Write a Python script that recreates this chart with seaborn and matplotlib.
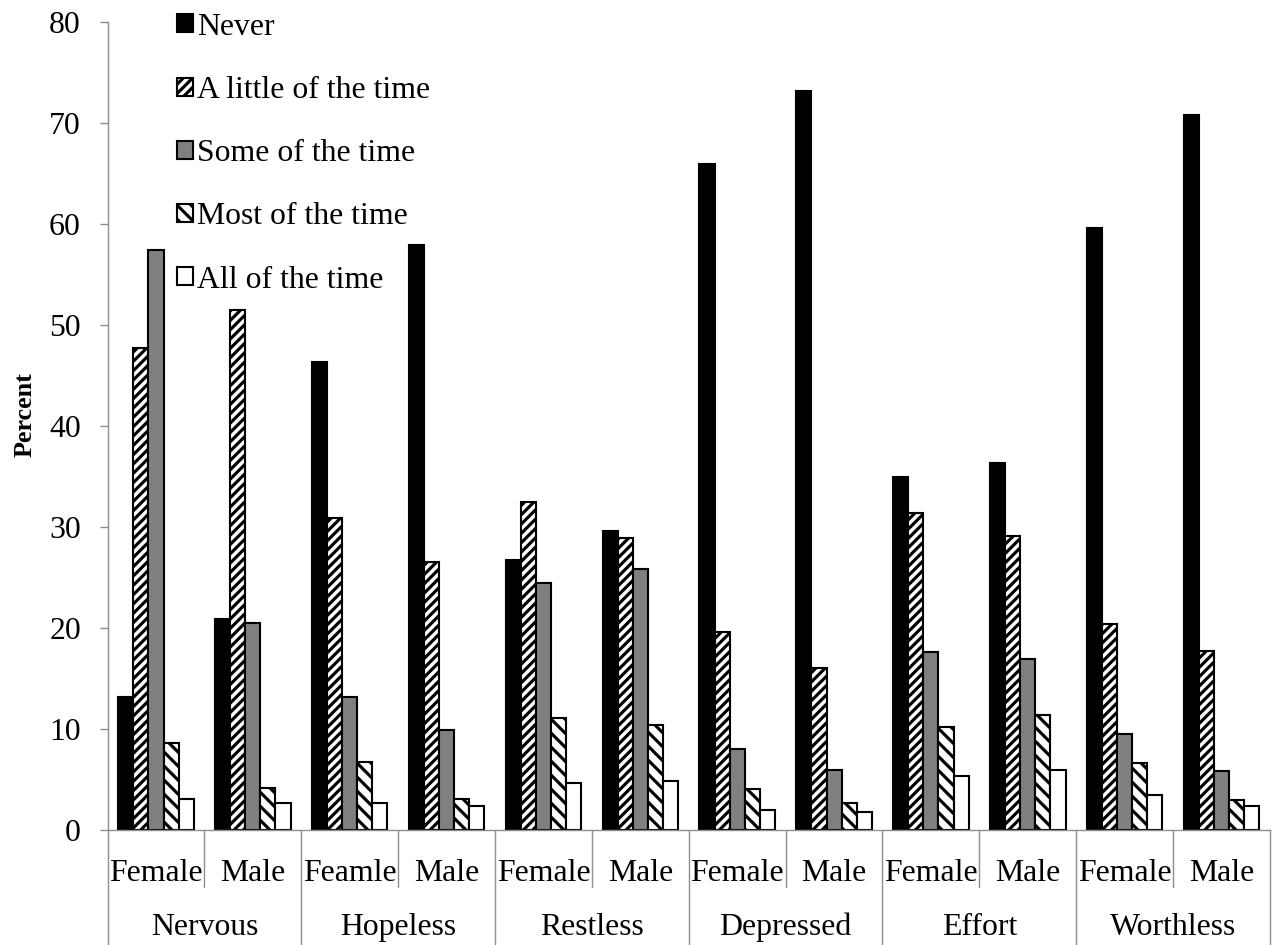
import pandas as pd
import seaborn as sns
import matplotlib.pyplot as plt
import matplotlib.transforms as mtransforms

# chart values
symptoms = ["Nervous", "Hopeless", "Restless", "Depressed", "Effort", "Worthless"]
sex_labels = ["Female", "Male", "Feamle", "Male", "Female", "Male",
              "Female", "Male", "Female", "Male", "Female", "Male"]
responses = ["Never", "A little of the time", "Some of the time",
             "Most of the time", "All of the time"]

never = [13.2, 20.9, 46.3, 57.9, 26.7, 29.6, 65.9, 73.2, 35.0, 36.3, 59.6, 70.8]
a_little = [47.7, 51.5, 30.9, 26.5, 32.5, 28.9, 19.6, 16.0, 31.4, 29.1, 20.4, 17.7]
some = [57.4, 20.5, 13.2, 9.9, 24.5, 25.8, 8.0, 5.9, 17.6, 16.9, 9.5, 5.8]
most = [8.6, 4.2, 6.7, 3.1, 11.1, 10.4, 4.1, 2.7, 10.2, 11.4, 6.6, 3.0]
all_time = [3.1, 2.7, 2.7, 2.4, 4.7, 4.9, 2.0, 1.8, 5.3, 5.9, 3.5, 2.4]

colors = ["black", "white", "#808080", "white", "white"]
hatches = [None, "//////", None, "\\\\\\\\", None]

rows = []
for resp, vals in zip(responses, [never, a_little, some, most, all_time]):
    for i, v in enumerate(vals):
        rows.append({"group": i, "response": resp, "Percent": v})
df = pd.DataFrame(rows)

sns.set_style("ticks")
plt.rcParams["font.family"] = ["Liberation Serif", "DejaVu Serif"]
plt.rcParams["hatch.linewidth"] = 1.35
plt.rcParams["text.color"] = "black"
plt.rcParams["axes.labelcolor"] = "black"
plt.rcParams["ytick.labelcolor"] = "black"

DPI = 168
fig = plt.figure(figsize=(1277 / DPI, 945 / DPI), dpi=DPI)
ax = fig.add_axes([0.0842, 0.1217, 0.9103, 0.855])

sns.barplot(data=df, x="group", y="Percent", hue="response", hue_order=responses,
            palette=colors, width=0.78, edgecolor="black", linewidth=0.9,
            saturation=1, ax=ax, legend=False)

for cont, h in zip(ax.containers, hatches):
    for bar in cont:
        bar.set_edgecolor("black")
        bar.set_linewidth(0.9)
        if h:
            bar.set_hatch(h)

axis_gray = "#8e8e8e"
ax.set_xlim(-0.5, 11.5)
ax.set_ylim(0, 80)
ax.set_yticks(range(0, 81, 10))
ax.tick_params(axis="y", labelsize=13.6, length=3.4, width=0.6, color=axis_gray,
               labelcolor="black", pad=8)
ax.set_xticks([])
ax.set_xlabel("")
ax.set_ylabel("Percent", fontsize=11.2, fontweight="bold", color="black")
ax.yaxis.set_label_coords(-0.061, 0.514)
for side in ["top", "right"]:
    ax.spines[side].set_visible(False)
ax.spines["left"].set_color(axis_gray)
ax.spines["bottom"].set_color(axis_gray)
ax.spines["left"].set_linewidth(0.6)
ax.spines["bottom"].set_linewidth(0.6)

# two-level category axis below the bars
trans = mtransforms.blended_transform_factory(ax.transData, ax.transAxes)
for i, lab in enumerate(sex_labels):
    ax.text(i, -0.063, lab, transform=trans, ha="center", va="baseline",
            fontsize=13.6, color="black")
for k, name in enumerate(symptoms):
    ax.text(2 * k + 0.5, -0.1305, name, transform=trans, ha="center", va="baseline",
            fontsize=13.6, color="black")
for b in range(13):
    x = b - 0.5
    y_end = -0.142 if b % 2 == 0 else -0.0705
    ax.plot([x, x], [0, y_end], transform=trans, color=axis_gray, lw=0.6, clip_on=False)

ax.legend(handles=ax.containers, labels=responses, loc="upper left",
          bbox_to_anchor=(0.136, 0.99), bbox_transform=fig.transFigure,
          frameon=False, fontsize=13.6, handlelength=0.5, handleheight=0.5,
          handletextpad=0.15, labelspacing=1.08, borderpad=0.1, borderaxespad=0,
          labelcolor="black")

fig.savefig("out.png", dpi=DPI)
